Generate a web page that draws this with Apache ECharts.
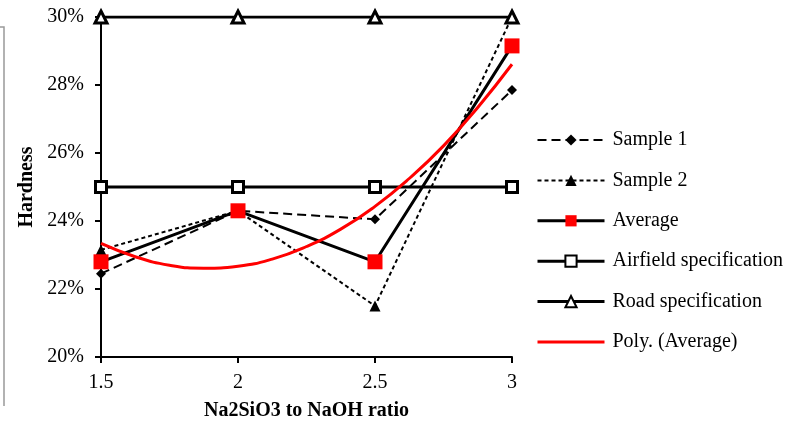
<!DOCTYPE html>
<html><head><meta charset="utf-8">
<script src="https://cdn.jsdelivr.net/npm/echarts@6/dist/echarts.min.js"></script>
<style>html,body{margin:0;padding:0;background:#fff}#c{width:790px;height:426px}</style>
</head><body><div id="c"></div>
<script>
var ratios = [1.5, 2, 2.5, 3];
var sample1 = [22.45, 24.3, 24.05, 27.85];
var sample2 = [23.15, 24.3, 21.5, 30];
var average = [22.8, 24.3, 22.8, 29.15];
var airfield = [25, 25, 25, 25];
var road = [30, 30, 30, 30];
var polyX = [1.5, 1.625, 1.75, 1.875, 2, 2.125, 2.25, 2.375, 2.5, 2.625, 2.75, 2.875, 3];
var polyY = [23.34, 22.95, 22.70, 22.61, 22.67, 22.88, 23.25, 23.76, 24.43, 25.25, 26.21, 27.34, 28.61];
var xTicks = [1.5, 2, 2.5, 3];
var yTicks = [20, 22, 24, 26, 28, 30];

function pairs(xs, ys) { return xs.map(function (x, i) { return [x, ys[i]]; }); }

var F = 'Liberation Serif';
var chart = echarts.init(document.getElementById('c'), null, {renderer: 'canvas'});
chart.setOption({
  animation: false,
  backgroundColor: '#fff',
  grid: {left: 101, right: 278, top: 17, bottom: 69},
  xAxis: {
    type: 'value', min: xTicks[0], max: xTicks[xTicks.length - 1], interval: 0.5,
    name: 'Na2SiO3 to NaOH ratio', nameLocation: 'middle', nameGap: 44,
    nameTextStyle: {fontFamily: F, fontSize: 20, fontWeight: 'bold', color: '#000'},
    axisLine: {lineStyle: {color: '#000', width: 2}},
    axisTick: {show: true, length: 6, lineStyle: {color: '#000', width: 2}},
    axisLabel: {fontFamily: F, fontSize: 20, color: '#000', margin: 16},
    splitLine: {show: false}
  },
  yAxis: {
    type: 'value', min: yTicks[0], max: yTicks[yTicks.length - 1], interval: 2,
    name: 'Hardness', nameLocation: 'middle', nameGap: 62, nameRotate: 90,
    nameTextStyle: {fontFamily: F, fontSize: 20, fontWeight: 'bold', color: '#000'},
    axisLine: {show: true, lineStyle: {color: '#000', width: 2}},
    axisTick: {show: true, length: 6, lineStyle: {color: '#000', width: 2}},
    axisLabel: {fontFamily: F, fontSize: 20, color: '#000', margin: 17, formatter: function (v) { return v + '%'; }},
    splitLine: {show: false}
  },
  legend: {
    orient: 'vertical', left: 531, top: 125, itemWidth: 67, itemHeight: 14, itemGap: 20.4,
    lineStyle: {width: 'inherit'},
    textStyle: {fontFamily: F, fontSize: 20, color: '#000', padding: [0, 0, 0, 3]},
    data: ['Sample 1', 'Sample 2', 'Average', 'Airfield specification', 'Road specification',
      {name: 'Poly. (Average)', icon: 'path://M0,0 L67,0 L67,3 L0,3 Z', itemStyle: {color: '#ff0000'}}]
  },
  graphic: [{type: 'polyline', shape: {points: [[0, 27], [4, 27], [4, 406]]}, style: {stroke: '#999', lineWidth: 1.5, fill: null}}],
  series: [
    {name: 'Sample 1', type: 'line', data: pairs(ratios, sample1), symbol: 'diamond', symbolSize: 10,
      lineStyle: {color: '#000', width: 2, type: [9, 5]}, itemStyle: {color: '#000'}, z: 2},
    {name: 'Sample 2', type: 'line', data: pairs(ratios, sample2), symbol: 'triangle', symbolSize: 11,
      lineStyle: {color: '#000', width: 2, type: [4, 3]}, itemStyle: {color: '#000'}, z: 2},
    {name: 'Airfield specification', type: 'line', data: pairs(ratios, airfield), symbol: 'rect', symbolSize: 11,
      lineStyle: {color: '#000', width: 3}, itemStyle: {color: '#fff', borderColor: '#000', borderWidth: 3}, z: 3},
    {name: 'Road specification', type: 'line', data: pairs(ratios, road), symbol: 'triangle', symbolSize: 12,
      lineStyle: {color: '#000', width: 3}, itemStyle: {color: '#fff', borderColor: '#000', borderWidth: 3}, z: 3},
    {name: 'Average', type: 'line', data: pairs(ratios, average), symbol: 'rect', symbolSize: 15,
      lineStyle: {color: '#000', width: 3}, itemStyle: {color: '#ff0000'}, z: 4},
    {name: 'Poly. (Average)', type: 'line', data: pairs(polyX, polyY), symbol: 'none', smooth: true,
      lineStyle: {color: '#ff0000', width: 3}, itemStyle: {color: '#ff0000'}, z: 5}
  ]
});
</script></body></html>
